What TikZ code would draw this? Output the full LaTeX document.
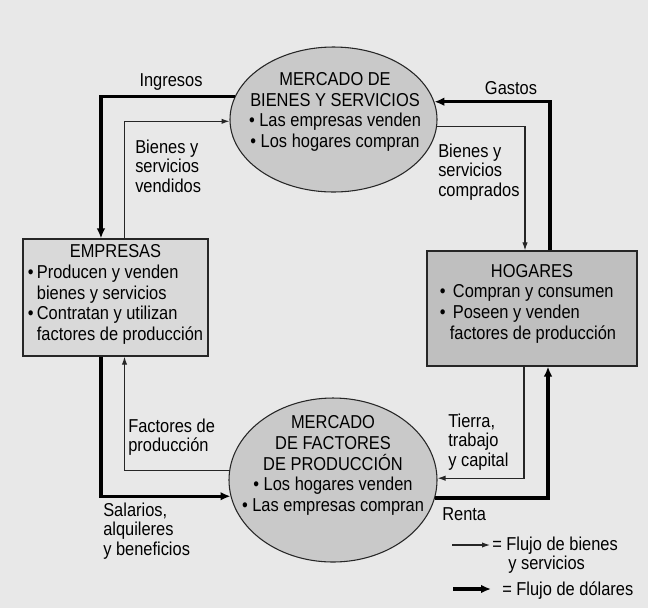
\documentclass[tikz,border=0pt]{standalone}
\usepackage{fontspec}
\setmainfont{Liberation Sans}[FakeStretch=0.88]
\usetikzlibrary{shapes.geometric,arrows.meta}
\newcommand{\bulletmark}[1]{\makebox[#1][l]{•}}
\begin{document}
\begin{tikzpicture}[x=0.75pt,y=-0.75pt,
  every node/.style={font=\fontsize{14}{15.5}\selectfont, text=black},
  mkt/.style={ellipse, draw=black!85, line width=0.8pt, fill=black!21, inner sep=0pt},
  agent/.style={rectangle, draw=black!85, line width=0.9pt, inner sep=0pt},
  goods/.style={draw=black!85, line width=0.8pt, -{Latex[length=6pt,width=4pt]}},
  money/.style={draw=black, line width=2.3pt, -{Latex[length=7.5pt,width=6.5pt]}},
  lbl/.style={align=left, inner sep=0pt, font=\fontsize{14}{14.6}\selectfont},
]
\useasboundingbox (0,0) rectangle (648,608);
\fill[black!9] (0,0) rectangle (648,608);

% markets
\node[mkt, minimum width=155.25pt, minimum height=108.75pt] (T) at (333.5,119.5) {};
\node[align=center, inner sep=0pt] (Tt) at (335,112)
  {MERCADO DE\\BIENES Y SERVICIOS\\• Las empresas venden\\• Los hogares compran};
\node[mkt, minimum width=156pt, minimum height=123pt] (B) at (333,480) {};
\node[align=center, inner sep=0pt] (Bt) at (333,465.5)
  {MERCADO\\DE FACTORES\\DE PRODUCCIÓN\\• Los hogares venden\\• Las empresas compran};

% agents
\node[agent, fill=black!15, minimum width=138.75pt, minimum height=87.75pt] (E) at (115.5,297.5)
  {\begin{tabular}{@{}l@{}}
   \multicolumn{1}{@{}c@{}}{EMPRESAS}\\
   \bulletmark{6.75pt}Producen y venden\\
   \hspace*{6.75pt}bienes y servicios\\
   \bulletmark{6.75pt}Contratan y utilizan\\
   \hspace*{6.75pt}factores de producción\\[3.5pt]
   \end{tabular}};
\node[agent, fill=black!25, minimum width=157.5pt, minimum height=86.25pt] (H) at (532,308.5)
  {\begin{tabular}{@{}l@{\hspace{6pt}}}
   \multicolumn{1}{@{}c@{}}{HOGARES}\\
   \bulletmark{9.75pt}Compran y consumen\\
   \bulletmark{9.75pt}Poseen y venden\\
   \hspace*{7.5pt}factores de producción\\[6.5pt]
   \end{tabular}};

% flows
\draw[money] (T.167) -| ([xshift=-10.9pt]E.north);
\draw[goods] ([xshift=6.75pt]E.north) |- (T.181);
\draw[money] ([xshift=13.5pt]H.north) |- (T.10.5);
\draw[goods] (T.-4) -| ([xshift=-5.25pt]H.north);
\draw[goods] (B.175) -| ([xshift=6.75pt]E.south);
\draw[money] ([xshift=-10.9pt]E.south) |- (B.189.5);
\draw[goods] ([xshift=-6pt]H.south) |- (B.1.7);
\draw[money] (B.-10.6) -| ([xshift=12pt]H.south);

% labels
\node[lbl] (Li) at (171,82) {Ingresos};
\node[lbl] (Lg) at (511,88) {Gastos};
\node[lbl, anchor=west] (Lv) at (135,166) {Bienes y\\servicios\\vendidos};
\node[lbl, anchor=west] (Lc) at (438,172) {Bienes y\\servicios\\comprados};
\node[lbl, anchor=west] (Lf) at (128,437) {Factores de\\producción};
\node[lbl, anchor=west] (Ls) at (103,531) {Salarios,\\alquileres\\y beneficios};
\node[lbl, anchor=west] (Lt) at (448,442) {Tierra,\\trabajo\\y capital};
\node[lbl, anchor=west] (Lr) at (442,514) {Renta};

% legend
\coordinate (g1) at (452,545); \coordinate (g2) at (490,545);
\draw[goods] (g1) -- (g2);
\node[lbl, anchor=west] (lg1) at (492,555) {= Flujo de bienes\\\hspace*{12pt}y servicios};
\coordinate (m1) at (453,589); \coordinate (m2) at (491,589);
\draw[money] (m1) -- (m2);
\node[lbl, anchor=west] (lg2) at (502,591) {= Flujo de dólares};
\end{tikzpicture}
\end{document}
